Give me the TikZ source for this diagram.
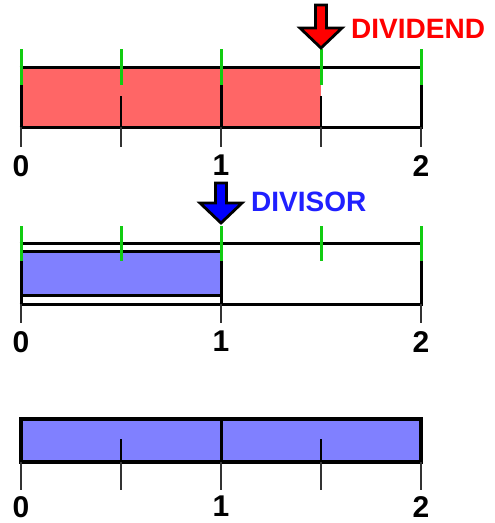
\documentclass[tikz,border=0pt]{standalone}
\usepackage{fontspec}
\setmainfont{Liberation Sans}
\definecolor{barred}{HTML}{FF6666}
\definecolor{barblue}{HTML}{8080FF}
\definecolor{tickgreen}{HTML}{11CC11}
\definecolor{arrred}{HTML}{FF0000}
\definecolor{arrblue}{HTML}{0000FF}
\definecolor{txtblue}{HTML}{2020FF}
\definecolor{ticksgray}{HTML}{333333}
\tikzset{
  edge/.style={line width=3pt, black},
  greentick/.style={line width=3pt, tickgreen},
  halftick/.style={line width=2pt, black},
  axistick/.style={line width=2pt, ticksgray},
  numlabel/.style={font=\fontsize{30}{30}\selectfont\bfseries, inner sep=0pt, anchor=north},
  biglabel/.style={font=\fontsize{28}{28}\selectfont\bfseries, inner sep=0pt, anchor=west},
  arrowshape/.style={line width=2.8pt, draw=black, line join=miter}
}
\begin{document}
\begin{tikzpicture}[x=1pt,y=-1pt]
\useasboundingbox (0,0) rectangle (495,523);
% ---------- top panel: dividend ----------
\fill[barred] (21,67) rectangle (321,127);
\draw[edge] (19.5,67) -- (422.5,67);
\draw[edge] (19.5,127) -- (422.5,127);
\foreach \x in {21,221,421} \draw[edge] (\x,85) -- (\x,127);
\foreach \x in {121,321} \draw[halftick] (\x,96) -- (\x,127);
\foreach \x in {21,121,221,321,421} {
  \draw[greentick] (\x,49) -- (\x,85);
  \draw[axistick] (\x,127) -- (\x,147);
}
\node[numlabel] (a0) at (21,155) {0};
\node[numlabel] (a1) at (221,155) {1};
\node[numlabel] (a2) at (421,155) {2};
\filldraw[arrowshape, fill=arrred] (315.5,5) -- (326.5,5) -- (326.5,28) -- (342,28) -- (321,48) -- (300,28) -- (315.5,28) -- cycle;
\node[biglabel, text=arrred] (dividend) at (351,29) {DIVIDEND};
% ---------- middle panel: divisor ----------
\draw[edge] (19.5,243) -- (422.5,243);
\draw[edge] (19.5,304) -- (422.5,304);
\filldraw[edge, fill=barblue] (21,251) rectangle (221,295);
\foreach \x in {21,221,421} \draw[edge] (\x,261) -- (\x,304);
\foreach \x in {21,121,221,321,421} \draw[greentick] (\x,226) -- (\x,261);
\foreach \x in {21,221,421} \draw[axistick] (\x,304) -- (\x,323);
\node[numlabel] (b0) at (21,331) {0};
\node[numlabel] (b1) at (221,331) {1};
\node[numlabel] (b2) at (421,331) {2};
\filldraw[arrowshape, fill=arrblue] (215.5,183) -- (226.5,183) -- (226.5,203) -- (242,203) -- (221,223) -- (200,203) -- (215.5,203) -- cycle;
\node[biglabel, text=txtblue] (divisor) at (251,202) {DIVISOR};
% ---------- bottom panel: quotient ----------
\filldraw[line width=3.5pt, fill=barblue] (21,419) rectangle (421,462);
\draw[edge] (221,419) -- (221,462);
\foreach \x in {121,321} \draw[halftick] (\x,439) -- (\x,462);
\foreach \x in {21,121,221,321,421} \draw[axistick] (\x,462) -- (\x,490);
\node[numlabel] (c0) at (21,496) {0};
\node[numlabel] (c1) at (221,496) {1};
\node[numlabel] (c2) at (421,496) {2};
\end{tikzpicture}
\end{document}
